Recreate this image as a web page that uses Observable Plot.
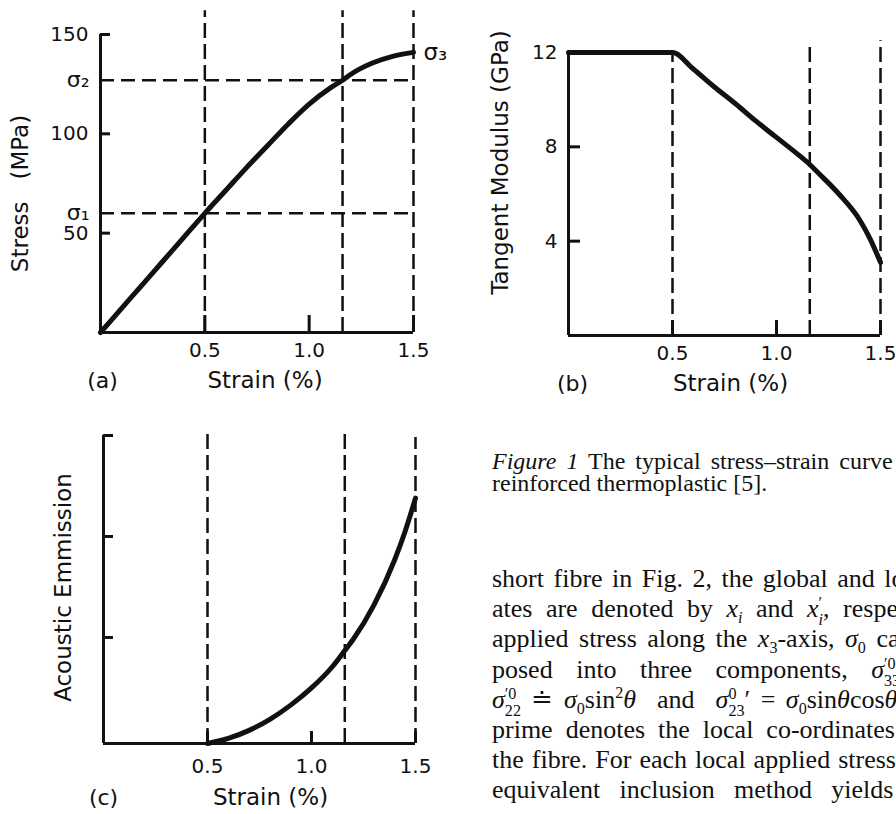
<!DOCTYPE html>
<html>
<head>
<meta charset="utf-8">
<script src="https://cdn.jsdelivr.net/npm/d3@7"></script>
<script src="https://cdn.jsdelivr.net/npm/@observablehq/plot@0.6"></script>
<style>
html, body { margin:0; padding:0; background:#fff; }
#page { position:relative; width:896px; height:814px; overflow:hidden; background:#fff; }
.panel { position:absolute; }
.panel svg { overflow: visible; }
.tl { position:absolute; left:492px; white-space:nowrap; font-family:"Liberation Serif","Times New Roman",serif; color:#111; line-height:60px; height:60px; }
.tl sub, .tl sup { font-size:0.62em; line-height:0; }
.stk { display:inline-flex; flex-direction:column; font-size:0.62em; line-height:1.05; vertical-align:0.55em; text-align:left; }
</style>
</head>
<body>
<div id="page"></div>
<script>
// ---------------- data ----------------
const strainTicks   = [0.5, 1.0, 1.5];
const markerStrains = [0.5, 1.16, 1.5];

// (a) stress–strain
const stressStrain = [0, 0.1, 0.2, 0.3, 0.4, 0.5, 0.6, 0.7, 0.8, 0.9, 1.0, 1.1, 1.16, 1.2, 1.3, 1.4, 1.5];
const stressMPa    = [0, 12, 24, 36, 48, 60, 71.5, 83, 94, 105, 115, 123, 127, 130, 135.5, 139, 141];
const stressTicks  = [50, 100, 150];
const sigmaLevels  = [60, 127];
const sigmaLabels  = ["σ₁", "σ₂"];
const sigma3Label  = "σ₃";
const dashTopA     = [162, 162, 162];

// (b) tangent modulus
const modulusStrain = [0, 0.5, 0.6, 0.7, 0.8, 0.9, 1.0, 1.1, 1.16, 1.2, 1.3, 1.4, 1.45, 1.5];
const modulusGPa    = [12, 12, 11.3, 10.55, 9.85, 9.1, 8.4, 7.7, 7.25, 6.9, 6.0, 4.9, 4.1, 3.1];
const modulusTicks  = [4, 8, 12];
const dashTopB      = [12, 12.45, 12.5];

// (c) acoustic emission
const aeStrain = [0.5, 0.6, 0.7, 0.8, 0.9, 1.0, 1.1, 1.16, 1.2, 1.3, 1.4, 1.45, 1.5];
const aeValue  = [0, 0.05, 0.13, 0.24, 0.38, 0.55, 0.76, 0.92, 1.03, 1.37, 1.82, 2.1, 2.43];
const aeTicks  = [1.05, 2.05, 3.05];
const dashTopC = [3.07, 3.07, 3.03];

const xTitle    = "Strain (%)";
const yTitles   = ["Stress\u00a0\u00a0\u00a0(MPa)", "Tangent Modulus (GPa)", "Acoustic Emmission"];
const panelTags = ["(a)", "(b)", "(c)"];

const captionLines = [
  "<i>Figure 1</i> The typical stress–strain curve of a short-fibre",
  "reinforced thermoplastic [5]."
];
const st = (a, b) => `<span class="stk"><span>${a}</span><span>${b}</span></span>`;
const bodyLines = [
  "short fibre in Fig. 2, the global and local co-ordin-",
  `ates are denoted by <i>x<sub>i</sub></i> and <i>x</i>${st("′", "<i>i</i>")}, respectively. For an`,
  "applied stress along the <i>x</i><sub>3</sub>-axis, <i>σ</i><sub>0</sub> can be decom-",
  `posed into three components, <i>σ</i>${st("′0", "33")} = <i>σ</i><sub>0</sub>cos<sup>2</sup><i>θ</i>,`,
  `<i>σ</i>${st("′0", "22")} ≐ <i>σ</i><sub>0</sub>sin<sup>2</sup><i>θ</i>&nbsp; and &nbsp;<i>σ</i>${st("0", "23")}′ = <i>σ</i><sub>0</sub>sin<i>θ</i>cos<i>θ</i>. The`,
  "prime denotes the local co-ordinates attached to",
  "the fibre. For each local applied stress component, the",
  "equivalent inclusion method yields the"
];

// ---------------- layout / style ----------------
const FONT = '"DejaVu Sans",sans-serif';
const INK = "#111";
const DASH = "15,6";
const rows = (xs, ys) => xs.map((x, i) => ({x, y: ys[i]}));
const baseStyle = {fontFamily: FONT, fontSize: "20px", color: INK, background: "transparent", overflow: "visible"};
const xMax = () => d3.max(strainTicks);
const TICK = 20, TITLE = 23, TAG = 22;

// x-axis: inward tick marks drawn as short rules; length given in pixels, converted with the frame's scale
function xAxisMarks(tickPx, labelGap, yMax, frameH) {
  const len = tickPx * yMax / frameH;
  return [
    Plot.ruleX(strainTicks, {x: d => d, y1: () => 0, y2: () => len, stroke: INK, strokeWidth: 3}),
    Plot.axisX(strainTicks, {tickSize: 0, tickPadding: labelGap, fontSize: TICK, label: null, tickFormat: d => d.toFixed(1)})
  ];
}

const plotA = Plot.plot({
  width: 460, height: 410,
  marginLeft: 100, marginRight: 47, marginTop: 34, marginBottom: 78,
  x: {domain: [0, 1.5]}, y: {domain: [0, 150]},
  style: baseStyle,
  marks: [
    Plot.ruleX(markerStrains, {x: d => d, y1: 0, y2: (d, i) => dashTopA[i], stroke: INK, strokeWidth: 2.5, strokeDasharray: DASH}),
    Plot.ruleY(sigmaLevels, {y: d => d, x1: 0, x2: xMax, stroke: INK, strokeWidth: 2.5, strokeDasharray: "14,7"}),
    Plot.ruleX([0], {stroke: INK, strokeWidth: 3}),
    Plot.ruleY([0], {stroke: INK, strokeWidth: 3}),
    ...xAxisMarks(17, 10, 150, 298),
    Plot.axisY(stressTicks, {tickSize: -10, tickPadding: 22, strokeWidth: 3, fontSize: TICK, label: null}),
    Plot.axisY(sigmaLevels, {tickSize: 0, tickPadding: 11, fontSize: 22, label: null, tickFormat: d => sigmaLabels[sigmaLevels.indexOf(d)]}),
    Plot.line(rows(stressStrain, stressMPa), {x: "x", y: "y", curve: "monotone-x", stroke: INK, strokeWidth: 5}),
    Plot.text([sigma3Label], {x: () => stressStrain.at(-1), y: () => stressMPa.at(-1), dx: 10, dy: 0, textAnchor: "start", fontSize: 23}),
    Plot.text([yTitles[0]], {frameAnchor: "left", dx: -80, dy: 10, rotate: -90, textAnchor: "middle", lineAnchor: "middle", fontSize: TITLE}),
    Plot.text([panelTags[0]], {frameAnchor: "bottom-left", dx: 2, dy: 48, textAnchor: "middle", lineAnchor: "middle", fontSize: TAG}),
    Plot.text([xTitle], {frameAnchor: "bottom", dx: 8, dy: 48, textAnchor: "middle", lineAnchor: "middle", fontSize: TITLE})
  ]
});

const plotB = Plot.plot({
  width: 436, height: 410,
  marginLeft: 108, marginRight: 16, marginTop: 52, marginBottom: 75,
  x: {domain: [0, 1.5]}, y: {domain: [0, 12]},
  style: baseStyle,
  marks: [
    Plot.ruleX(markerStrains, {x: d => d, y1: 0, y2: (d, i) => dashTopB[i], stroke: INK, strokeWidth: 2.5, strokeDasharray: DASH}),
    Plot.ruleX([0], {stroke: INK, strokeWidth: 3}),
    Plot.ruleY([0], {stroke: INK, strokeWidth: 3}),
    ...xAxisMarks(15, 10, 12, 283),
    Plot.axisY(modulusTicks, {tickSize: -12, tickPadding: 23, strokeWidth: 3, fontSize: TICK, label: null}),
    Plot.line(rows(modulusStrain, modulusGPa), {x: "x", y: "y", curve: "monotone-x", stroke: INK, strokeWidth: 5}),
    Plot.text([yTitles[1]], {frameAnchor: "left", dx: -68, dy: -31.5, rotate: -90, textAnchor: "middle", lineAnchor: "middle", fontSize: TITLE}),
    Plot.text([panelTags[1]], {frameAnchor: "bottom-left", dx: 4, dy: 48, textAnchor: "middle", lineAnchor: "middle", fontSize: TAG}),
    Plot.text([xTitle], {frameAnchor: "bottom", dx: 6, dy: 48, textAnchor: "middle", lineAnchor: "middle", fontSize: TITLE})
  ]
});

const plotC = Plot.plot({
  width: 460, height: 394,
  marginLeft: 103, marginRight: 45, marginTop: 15, marginBottom: 71,
  x: {domain: [0, 1.5]}, y: {domain: [0, 3.05]},
  style: baseStyle,
  marks: [
    Plot.ruleX(markerStrains, {x: d => d, y1: 0, y2: (d, i) => dashTopC[i], stroke: INK, strokeWidth: 2.5, strokeDasharray: DASH}),
    Plot.ruleX([0], {stroke: INK, strokeWidth: 3}),
    Plot.ruleY([0], {stroke: INK, strokeWidth: 3}),
    ...xAxisMarks(12, 15, 3.05, 308),
    Plot.axisY(aeTicks, {tickSize: -10, tickPadding: 20, strokeWidth: 3, fontSize: TICK, label: null, tickFormat: () => ""}),
    Plot.line(rows(aeStrain, aeValue), {x: "x", y: "y", curve: "monotone-x", stroke: INK, strokeWidth: 5}),
    Plot.text([yTitles[2]], {frameAnchor: "left", dx: -40, dy: -2, rotate: -90, textAnchor: "middle", lineAnchor: "middle", fontSize: TITLE}),
    Plot.text([panelTags[2]], {frameAnchor: "bottom-left", dx: 0, dy: 54, textAnchor: "middle", lineAnchor: "middle", fontSize: TAG}),
    Plot.text([xTitle], {frameAnchor: "bottom", dx: 11, dy: 54, textAnchor: "middle", lineAnchor: "middle", fontSize: TITLE})
  ]
});

const page = document.getElementById("page");
[[plotA, 0, 0], [plotB, 460, 0], [plotC, 0, 420]].forEach(([svg, l, t]) => {
  const d = document.createElement("div");
  d.className = "panel";
  d.style.left = l + "px";
  d.style.top = t + "px";
  d.appendChild(svg);
  page.appendChild(d);
});

function addLines(lines, {size, baseline0, step, wordSpacing}) {
  const L = 60, B = (L - 1.107 * size) / 2 + 0.891 * size;
  lines.forEach((html, i) => {
    const d = document.createElement("div");
    d.className = "tl";
    d.style.fontSize = size + "px";
    d.style.top = (baseline0 + i * step - B) + "px";
    d.style.wordSpacing = wordSpacing[i] + "px";
    d.innerHTML = html;
    page.appendChild(d);
  });
}
addLines(captionLines, {size: 24, baseline0: 469, step: 22, wordSpacing: [4, 0]});
addLines(bodyLines, {size: 26, baseline0: 588, step: 30.1, wordSpacing: [3, 7, 4, 17, 4, 6.5, 1.5, 12.7]});
</script>
</body>
</html>
